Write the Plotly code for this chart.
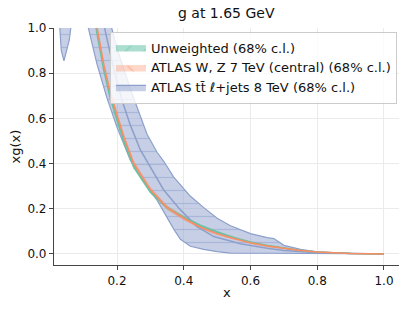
import plotly.graph_objects as go

# ---------------- data ----------------
# ATLAS ttbar l+jets 8 TeV band
x_tt = [0.011, 0.02, 0.029, 0.031, 0.033, 0.041, 0.049, 0.057, 0.061, 0.07, 0.09,
        0.116, 0.14, 0.17, 0.2, 0.24, 0.29, 0.32, 0.34, 0.37, 0.39, 0.42, 0.46, 0.5, 0.54, 0.6,
        0.65, 0.67, 0.7, 0.75, 0.8, 0.85, 0.9, 0.95, 1.0]
tt_low = [1.4, 1.15, 1.0, 0.947, 0.90, 0.855, 0.90, 0.947, 1.0, 1.1, 1.15,
          1.0, 0.84, 0.69, 0.56, 0.415, 0.298, 0.238, 0.185, 0.11, 0.065, 0.034, 0.02, 0.01, 0.004, 0.003,
          0.003, 0.003, 0.002, 0.002, 0.001, 0.0005, 0.0003, 0.0001, 0.0]
tt_up = [2.0, 2.0, 2.0, 2.0, 2.0, 2.0, 2.0, 2.0, 2.0, 2.0, 1.8,
         1.5, 1.3, 1.08, 0.91, 0.73, 0.53, 0.45, 0.41, 0.34, 0.305, 0.255, 0.205, 0.158, 0.125, 0.09,
         0.072, 0.068, 0.038, 0.02, 0.009, 0.004, 0.002, 0.0008, 0.0]
x_tt_c = [0.14, 0.17, 0.19, 0.215, 0.24, 0.27, 0.3, 0.34, 0.39, 0.44, 0.49, 0.57, 0.65, 0.7, 0.8, 0.9, 1.0]
tt_c = [1.15, 0.95, 0.82, 0.68, 0.57, 0.46, 0.385, 0.283, 0.195, 0.121, 0.077, 0.045, 0.025, 0.015, 0.005, 0.001, 0.0]

# W,Z 7 TeV and unweighted
x_fit = [0.1, 0.12, 0.14, 0.16, 0.18, 0.2, 0.22, 0.25, 0.3, 0.35, 0.4, 0.45, 0.5, 0.55,
         0.6, 0.65, 0.7, 0.75, 0.8, 0.85, 0.9, 0.95, 1.0]
wz_c = [1.5, 1.2, 1.0, 0.84, 0.71, 0.61, 0.52, 0.40, 0.285, 0.205, 0.158, 0.118, 0.09, 0.068,
        0.049, 0.035, 0.024, 0.015, 0.008, 0.004, 0.002, 0.0007, 0.0]
wz_err = [0.025, 0.02, 0.017, 0.015, 0.014, 0.013, 0.012, 0.011, 0.01, 0.009, 0.008, 0.007, 0.006,
          0.005, 0.004, 0.0035, 0.003, 0.002, 0.0015, 0.001, 0.0007, 0.0003, 0.0]
uw_c = [1.46, 1.17, 0.975, 0.818, 0.69, 0.59, 0.5, 0.385, 0.275, 0.205, 0.162, 0.125, 0.096, 0.072,
        0.052, 0.037, 0.025, 0.015, 0.008, 0.004, 0.002, 0.0007, 0.0]
uw_err = [0.02, 0.016, 0.013, 0.011, 0.01, 0.009, 0.008, 0.007, 0.007, 0.006, 0.006, 0.005, 0.005,
          0.004, 0.003, 0.0025, 0.002, 0.0015, 0.001, 0.0007, 0.0005, 0.0002, 0.0]

labels = ["Unweighted (68% c.l.)",
          "ATLAS W, Z 7 TeV (central) (68% c.l.)",
          "ATLAS t\u0074\u0304 \u2113+jets 8 TeV (68% c.l.)"]

GREEN = "#66c2a5"
ORANGE = "#fc8d62"
BLUE = "#8da0cb"
FONT = "DejaVu Sans"

fig = go.Figure()


def band(x, lo, up, name, color, rgba, hatch, rank, edge_w, edge_color):
    fig.add_trace(go.Scatter(
        x=list(x) + list(x)[::-1], y=list(up) + list(lo)[::-1],
        fill="toself", mode="lines", name=name, legendrank=rank,
        line=dict(color=edge_color, width=edge_w),
        fillcolor=rgba,
        fillpattern=dict(shape=hatch, fgcolor=color, bgcolor=rgba, size=13, solidity=0.1),
        hoverinfo="skip"))


band(x_tt, tt_low, tt_up, labels[2], BLUE, "rgba(141,160,203,0.5)", "-", 3, 1.2, BLUE)

uw_lo = [c - e for c, e in zip(uw_c, uw_err)]
uw_up = [c + e for c, e in zip(uw_c, uw_err)]
band(x_fit, uw_lo, uw_up, labels[0], GREEN, "rgba(102,194,165,0.55)", "/", 1, 0.5,
     "rgba(102,194,165,0.6)")

wz_lo = [c - e for c, e in zip(wz_c, wz_err)]
wz_up = [c + e for c, e in zip(wz_c, wz_err)]
band(x_fit, wz_lo, wz_up, labels[1], ORANGE, "rgba(252,141,98,0.35)", "\\", 2, 0.5,
     "rgba(252,141,98,0.4)")

fig.add_trace(go.Scatter(x=x_tt_c, y=tt_c, mode="lines", showlegend=False,
                         line=dict(color=BLUE, width=1.5), hoverinfo="skip"))
fig.add_trace(go.Scatter(x=x_fit, y=uw_c, mode="lines", showlegend=False,
                         line=dict(color=GREEN, width=1.5), hoverinfo="skip"))
fig.add_trace(go.Scatter(x=x_fit, y=wz_c, mode="lines", showlegend=False,
                         line=dict(color=ORANGE, width=1.5), hoverinfo="skip"))

axis_common = dict(
    showline=True, linecolor="#444", linewidth=1.2, mirror=False,
    ticks="outside", ticklen=4, tickcolor="#444", tickwidth=1,
    showgrid=True, gridcolor="#ebebeb", gridwidth=1, zeroline=False,
    tickfont=dict(family=FONT, size=12, color="#111"), tickformat=".1f",
)

fig.update_layout(
    width=407, height=310, autosize=False,
    margin=dict(l=54, r=8, t=28, b=45),
    paper_bgcolor="white", plot_bgcolor="white",
    font=dict(family=FONT, color="#111"),
    xaxis=dict(range=[0.0112, 1.045], tickvals=[0.2, 0.4, 0.6, 0.8, 1.0], **axis_common),
    yaxis=dict(range=[-0.049, 1.0], tick0=0, dtick=0.2, **axis_common),
    legend=dict(x=0.162, y=0.985, xanchor="left", yanchor="top",
                bgcolor="rgba(255,255,255,0.8)", bordercolor="#cccccc", borderwidth=1,
                font=dict(family=FONT, size=13, color="#111"), itemwidth=30,
                tracegroupgap=0),
    annotations=[
        dict(text="g at 1.65 GeV", x=0.5, y=1.063, xref="paper", yref="paper",
             showarrow=False, xanchor="center", yanchor="middle",
             font=dict(family=FONT, size=14, color="#111")),
        dict(text="x", x=0.5, y=-0.118, xref="paper", yref="paper",
             showarrow=False, xanchor="center", yanchor="middle",
             font=dict(family=FONT, size=13, color="#111")),
        dict(text="xg(x)", x=-0.113, y=0.5, xref="paper", yref="paper", textangle=-90,
             showarrow=False, xanchor="center", yanchor="middle",
             font=dict(family=FONT, size=13, color="#111")),
    ],
)

fig.write_html("out.html", config={"displayModeBar": False},
               post_script="document.body.style.margin='0px';")
